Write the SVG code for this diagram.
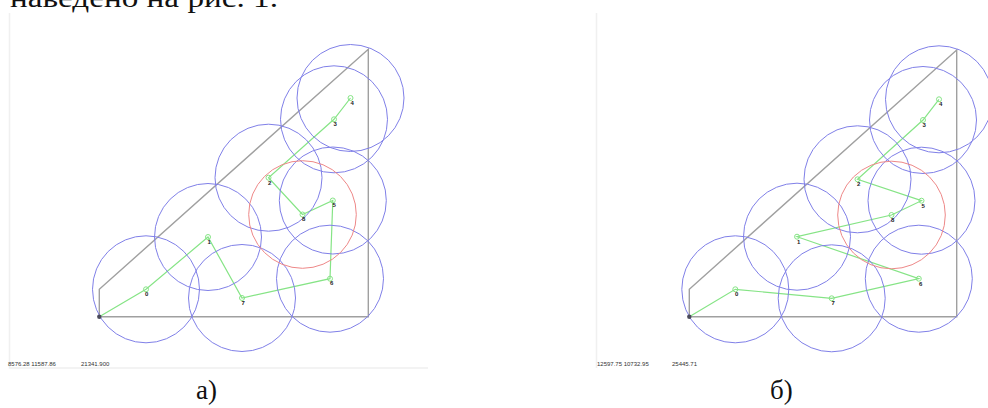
<svg xmlns="http://www.w3.org/2000/svg" width="988" height="408" viewBox="0 0 988 408">
<style>
.frame{fill:none;stroke:#f0f0f0;stroke-width:1.5}
.tri{fill:none;stroke:#a0a0a0;stroke-width:1.4}
.route{fill:none;stroke:#86e486;stroke-width:1.2}
.zone{fill:none;stroke:#8080e8;stroke-width:1}
.zone.sel{stroke:#ee8888}
.pt{fill:none;stroke:#86e486;stroke-width:1}
.org{fill:#4a4a5a}
.lbl{font-family:"Liberation Sans",Arial,sans-serif;font-size:6px;font-weight:bold;fill:#222}
.stat{font-family:"Liberation Sans",Arial,sans-serif;font-size:6px;fill:#333}
.cap{font-family:"Liberation Serif","Times New Roman",serif;font-size:27px;fill:#111}
</style>
<rect width="988" height="408" fill="#fff"/>
<text class="cap" x="10" y="7" textLength="268" lengthAdjust="spacingAndGlyphs">наведено на рис. 1.</text>

<g id="panel-a">
<path class="frame" d="M9.5 13V368H428"/>
<path class="tri" d="M99.3 316.7V289.3L368.3 49.3V316.7Z"/>
<g id="a-connectors">
<polyline class="route" points="99.3,316.7 146,289.3 208,237 242,298 330,278.7 332.8,200.5 302.5,214.5 268.5,177.7 334,119.3 350.5,98"/>
</g>
<g id="a-n0"><circle class="zone" cx="146" cy="289.3" r="53.5"/><circle class="pt" cx="146" cy="289.3" r="2.5"/><text class="lbl" x="145" y="296">0</text></g>
<g id="a-n1"><circle class="zone" cx="208" cy="237" r="53.5"/><circle class="pt" cx="208" cy="237" r="2.5"/><text class="lbl" x="207.5" y="244">1</text></g>
<g id="a-n2"><circle class="zone" cx="268.5" cy="177.7" r="53.5"/><circle class="pt" cx="268.5" cy="177.7" r="2.5"/><text class="lbl" x="268" y="185">2</text></g>
<g id="a-n3"><circle class="zone" cx="334" cy="119.3" r="53.5"/><circle class="pt" cx="334" cy="119.3" r="2.5"/><text class="lbl" x="333.5" y="126">3</text></g>
<g id="a-n4"><circle class="zone" cx="350.5" cy="98" r="53.5"/><circle class="pt" cx="350.5" cy="98" r="2.5"/><text class="lbl" x="350.5" y="104.5">4</text></g>
<g id="a-n5"><circle class="zone" cx="332.8" cy="200.5" r="53.5"/><circle class="pt" cx="332.8" cy="200.5" r="2.5"/><text class="lbl" x="332.5" y="207">5</text></g>
<g id="a-n6"><circle class="zone" cx="330" cy="278.7" r="53.5"/><circle class="pt" cx="330" cy="278.7" r="2.5"/><text class="lbl" x="330" y="285">6</text></g>
<g id="a-n7"><circle class="zone" cx="242" cy="298" r="53.5"/><circle class="pt" cx="242" cy="298" r="2.5"/><text class="lbl" x="241.5" y="305">7</text></g>
<g id="a-n8"><circle class="zone sel" cx="302.5" cy="214.5" r="53.8"/><circle class="pt" cx="302.5" cy="214.5" r="2.5"/><text class="lbl" x="302" y="221">8</text></g>
<g id="a-origin"><circle class="org" cx="99.3" cy="316.7" r="2.2"/></g>
<text class="stat" x="8" y="366">8576.28 11587.86</text>
<text class="stat" x="81" y="366">21341.900</text>
</g>

<g id="panel-b">
<path class="frame" d="M596.5 13V368"/>
<path class="tri" d="M689.3 316.7V289.3L956.7 50V316.7Z"/>
<g id="b-connectors">
<polyline class="route" points="689.3,316.7 735.3,289.3 831.7,298.3 918.8,278.7 797,236.7 891.5,215 921.5,200.7 857.5,179.3 923,120 939,99.3"/>
</g>
<g id="b-n0"><circle class="zone" cx="735.3" cy="289.3" r="53.5"/><circle class="pt" cx="735.3" cy="289.3" r="2.5"/><text class="lbl" x="735" y="296">0</text></g>
<g id="b-n1"><circle class="zone" cx="797" cy="236.7" r="53.5"/><circle class="pt" cx="797" cy="236.7" r="2.5"/><text class="lbl" x="797" y="243.5">1</text></g>
<g id="b-n2"><circle class="zone" cx="857.5" cy="179.3" r="53.5"/><circle class="pt" cx="857.5" cy="179.3" r="2.5"/><text class="lbl" x="857" y="186">2</text></g>
<g id="b-n3"><circle class="zone" cx="923" cy="120" r="53.5"/><circle class="pt" cx="923" cy="120" r="2.5"/><text class="lbl" x="922.5" y="127">3</text></g>
<g id="b-n4"><circle class="zone" cx="939" cy="99.3" r="53.5"/><circle class="pt" cx="939" cy="99.3" r="2.5"/><text class="lbl" x="939" y="106">4</text></g>
<g id="b-n5"><circle class="zone" cx="921.5" cy="200.7" r="53.5"/><circle class="pt" cx="921.5" cy="200.7" r="2.5"/><text class="lbl" x="921.5" y="207.5">5</text></g>
<g id="b-n6"><circle class="zone" cx="918.8" cy="278.7" r="53.5"/><circle class="pt" cx="918.8" cy="278.7" r="2.5"/><text class="lbl" x="919" y="285.5">6</text></g>
<g id="b-n7"><circle class="zone" cx="831.7" cy="298.3" r="53.5"/><circle class="pt" cx="831.7" cy="298.3" r="2.5"/><text class="lbl" x="831.5" y="305">7</text></g>
<g id="b-n8"><circle class="zone sel" cx="891.5" cy="215" r="53.8"/><circle class="pt" cx="891.5" cy="215" r="2.5"/><text class="lbl" x="891" y="221.5">8</text></g>
<g id="b-origin"><circle class="org" cx="689.3" cy="316.7" r="2.2"/></g>
<text class="stat" x="597" y="366">12597.75 10732.95</text>
<text class="stat" x="672" y="366">25445.71</text>
</g>

<text class="cap" x="196" y="399">а)</text>
<text class="cap" x="770" y="399">б)</text>
</svg>
